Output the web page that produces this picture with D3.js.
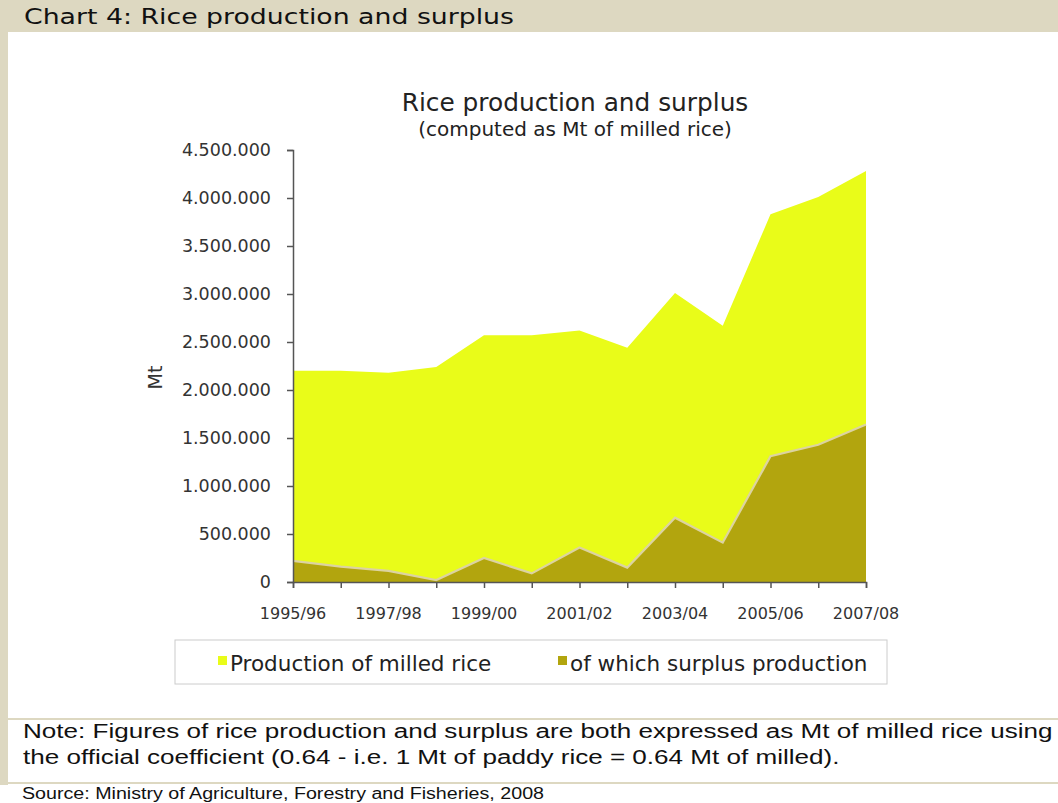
<!DOCTYPE html>
<html>
<head>
<meta charset="utf-8">
<script src="https://cdn.jsdelivr.net/npm/d3@7"></script>
<style>
  html, body { margin: 0; padding: 0; background: #fff; }
  svg { display: block; }
  text { font-family: "DejaVu Sans", Verdana, sans-serif; }
</style>
</head>
<body>
<svg id="chart" width="1058" height="803"></svg>
<script>
// Crop years (marketing seasons)
const seasons = ["1995/96", "1996/97", "1997/98", "1998/99", "1999/00", "2000/01",
                 "2001/02", "2002/03", "2003/04", "2004/05", "2005/06", "2006/07", "2007/08"];
// Production of milled rice, Mt
const production = [2200000, 2200000, 2180000, 2240000, 2570000, 2570000,
                    2620000, 2440000, 3010000, 2670000, 3830000, 4010000, 4280000];
// Of which surplus production, Mt
const surplus = [220000, 160000, 115000, 20000, 250000, 90000,
                 360000, 150000, 670000, 410000, 1310000, 1430000, 1640000];
// Y axis ticks
const yTicks = [0, 500000, 1000000, 1500000, 2000000, 2500000, 3000000, 3500000, 4000000, 4500000];
// Category labels shown on the x axis
const xLabels = ["1995/96", "1997/98", "1999/00", "2001/02", "2003/04", "2005/06", "2007/08"];

const svg = d3.select("#chart");
const W = 1058, H = 803;
const beige = "#DDD8C1";

// Page frame: header band, left rule, separators
svg.append("rect").attr("x", 0).attr("y", 0).attr("width", W).attr("height", 32).attr("fill", beige);
svg.append("rect").attr("x", 0).attr("y", 32).attr("width", 8).attr("height", 753).attr("fill", beige);
svg.append("rect").attr("x", 0).attr("y", 718).attr("width", W).attr("height", 2).attr("fill", beige);
svg.append("rect").attr("x", 0).attr("y", 782).attr("width", W).attr("height", 2).attr("fill", beige);

svg.append("text").attr("x", 24).attr("y", 24)
  .attr("font-size", 22).attr("fill", "#111")
  .attr("textLength", 490).attr("lengthAdjust", "spacingAndGlyphs")
  .text("Chart 4: Rice production and surplus");

// Plot scales
const x = d3.scalePoint().domain(seasons).range([293, 866]);
const y = d3.scaleLinear().domain([0, 4500000]).range([582, 150]);

// Titles
svg.append("text").attr("x", 575).attr("y", 111).attr("text-anchor", "middle")
  .attr("font-size", 24.8).attr("fill", "#222").text("Rice production and surplus");
svg.append("text").attr("x", 575).attr("y", 136).attr("text-anchor", "middle")
  .attr("font-size", 20).attr("fill", "#222").text("(computed as Mt of milled rice)");

// Areas
const prodArea = d3.area()
  .x((d, i) => x(seasons[i])).y0(y(0)).y1(d => y(d));
const surpArea = d3.area()
  .x((d, i) => x(seasons[i])).y0(y(0)).y1(d => y(d));
const surpLine = d3.line()
  .x((d, i) => x(seasons[i])).y(d => y(d));

svg.append("path").datum(production).attr("d", prodArea).attr("fill", "#E9FC19");
svg.append("path").datum(surplus).attr("d", surpArea).attr("fill", "#B2A50E");
svg.append("path").datum(surplus).attr("d", surpLine)
  .attr("fill", "none").attr("stroke", "#DCD3A0").attr("stroke-width", 2.2);

// Y axis
const yAxis = svg.append("g").attr("transform", `translate(${x(seasons[0])},0)`)
  .call(d3.axisLeft(y).tickValues(yTicks).tickSize(6).tickPadding(16)
    .tickFormat(d => d3.format(",")(d).replace(/,/g, ".")));
yAxis.select(".domain").attr("stroke", "#555").attr("stroke-width", 1.5);
yAxis.selectAll(".tick line").attr("stroke", "#555").attr("stroke-width", 1.5);
yAxis.selectAll(".tick text").attr("font-size", 17.5).attr("fill", "#333")
  .attr("font-family", "DejaVu Sans, Verdana, sans-serif");

svg.append("text")
  .attr("transform", `translate(162,${y(2130000)}) rotate(-90)`)
  .attr("text-anchor", "middle").attr("font-size", 19).attr("fill", "#333").text("Mt");

// X axis (ticks at every season, labels every other season)
const xAxis = svg.append("g").attr("transform", `translate(0,${y(0)})`)
  .call(d3.axisBottom(x).tickSize(6).tickFormat(""));
xAxis.select(".domain").attr("stroke", "#555").attr("stroke-width", 1.5);
xAxis.selectAll(".tick line").attr("stroke", "#555").attr("stroke-width", 1.5);

svg.append("g").selectAll("text").data(xLabels).join("text")
  .attr("x", d => x(d))
  .attr("y", y(0) + 37)
  .attr("text-anchor", "middle").attr("font-size", 16).attr("fill", "#333")
  .text(d => d);

// Legend
const leg = svg.append("g");
leg.append("rect").attr("x", 175).attr("y", 640).attr("width", 712).attr("height", 44)
  .attr("fill", "#fff").attr("stroke", "#ccc").attr("stroke-width", 1);
const legItems = [
  { label: "Production of milled rice", color: "#E9FC19", x: 218 },
  { label: "of which surplus production", color: "#B2A50E", x: 558 }
];
legItems.forEach(it => {
  leg.append("rect").attr("x", it.x).attr("y", 656).attr("width", 9).attr("height", 9).attr("fill", it.color);
  leg.append("text").attr("x", it.x + 12).attr("y", 671).attr("font-size", 21.5).attr("fill", "#222").text(it.label);
});

// Notes
const noteW = 1030;
const notes = svg.append("g").attr("font-size", 20).attr("fill", "#111")
  .attr("font-family", "Liberation Sans, Arial, sans-serif");
const n1 = notes.append("text").attr("x", 0).attr("y", 738)
  .style("font-family", "Liberation Sans, Arial, sans-serif")
  .text("Note: Figures of rice production and surplus are both expressed as Mt of milled rice using");
notes.append("text").attr("x", 0).attr("y", 764)
  .style("font-family", "Liberation Sans, Arial, sans-serif")
  .text("the official coefficient (0.64 - i.e. 1 Mt of paddy rice = 0.64 Mt of milled).");
const sx = noteW / n1.node().getComputedTextLength();
notes.attr("transform", `translate(23,0) scale(${sx},1)`);

svg.append("text").attr("x", 22).attr("y", 799).attr("font-size", 16).attr("fill", "#111")
  .style("font-family", "Liberation Sans, Arial, sans-serif")
  .attr("textLength", 522).attr("lengthAdjust", "spacingAndGlyphs")
  .text("Source: Ministry of Agriculture, Forestry and Fisheries, 2008");
</script>
</body>
</html>
